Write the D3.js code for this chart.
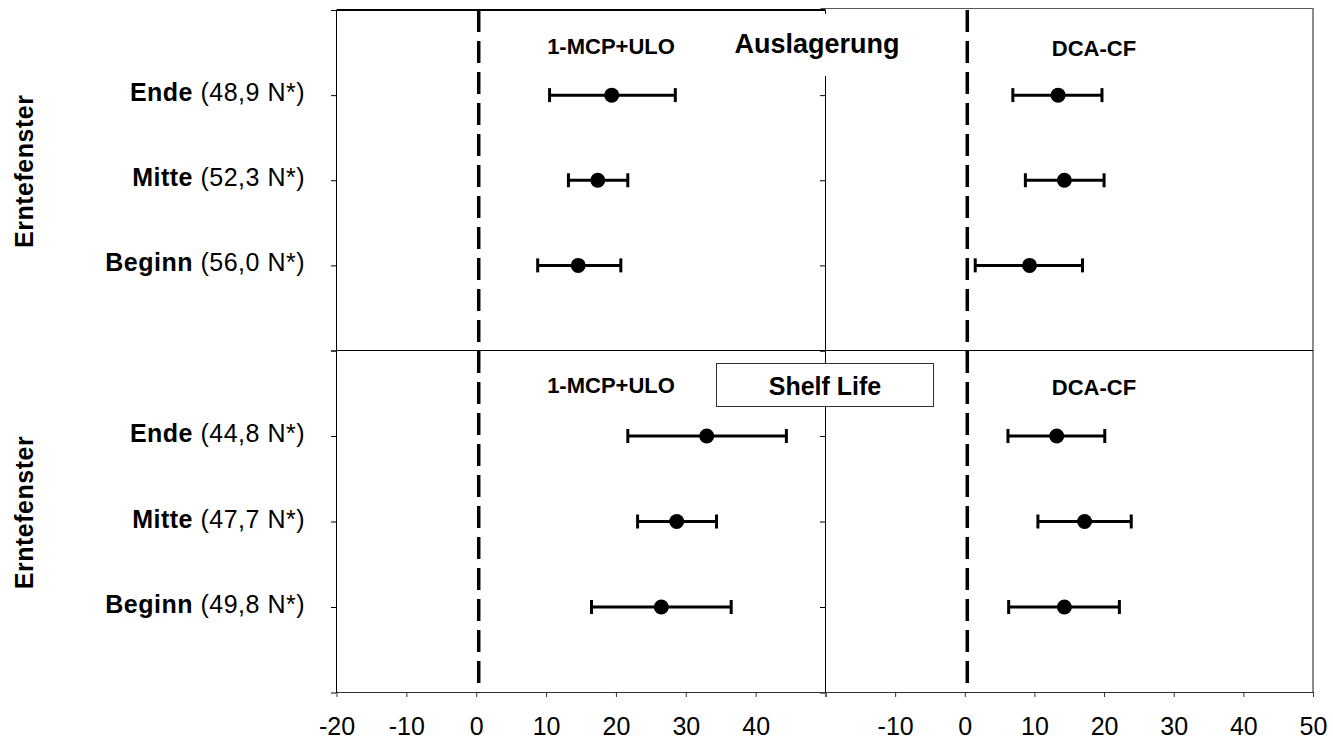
<!DOCTYPE html>
<html>
<head>
<meta charset="utf-8">
<script src="https://cdn.jsdelivr.net/npm/d3@7"></script>
<style>
  body { margin: 0; background: #fff; }
  text { font-family: Arial, "Liberation Sans", sans-serif; }
</style>
</head>
<body>
<div id="figure_div"></div>
<script>
// categories and labels
var categories = ['Ende', 'Mitte', 'Beginn'];
var firmness_auslagerung = ['48,9', '52,3', '56,0'];
var firmness_shelf = ['44,8', '47,7', '49,8'];
var x_ticks = [-20, -10, 0, 10, 20, 30, 40, 50];

// 1-MCP+ULO, Auslagerung
var mcp_aus_mean = [19.4, 17.4, 14.6];
var mcp_aus_low  = [10.5, 13.2, 8.8];
var mcp_aus_high = [28.5, 21.7, 20.7];

// DCA-CF, Auslagerung
var dca_aus_mean = [13.4, 14.3, 9.3];
var dca_aus_low  = [6.9, 8.7, 1.5];
var dca_aus_high = [19.7, 20.0, 16.9];

// 1-MCP+ULO, Shelf Life
var mcp_shelf_mean = [33.0, 28.7, 26.5];
var mcp_shelf_low  = [21.7, 23.1, 16.5];
var mcp_shelf_high = [44.4, 34.4, 36.5];

// DCA-CF, Shelf Life
var dca_shelf_mean = [13.2, 17.2, 14.3];
var dca_shelf_low  = [6.2, 10.5, 6.3];
var dca_shelf_high = [20.1, 23.9, 22.2];

function figure() {
    var width = 1333;
    var height = 741;

    var left = 336.5, mid = 825.5, right = 1313;
    var top = 10, split = 350.5, bottom = 692.5;

    var svg = d3.select('#figure_div')
        .append('svg')
        .attr('width', width)
        .attr('height', height);

    var x_left = d3.scaleLinear().domain([-20, 50]).range([left, mid]);
    var x_right = d3.scaleLinear().domain([-20, 50]).range([mid, right]);

    var rows = [
        { y0: top, y1: split, firmness: firmness_auslagerung },
        { y0: split, y1: bottom, firmness: firmness_shelf }
    ];
    rows.forEach(function(r) {
        r.y = d3.scalePoint().domain(categories).range([r.y0, r.y1]).padding(1);
    });

    // frame lines
    svg.append('line').attr('x1', left).attr('x2', mid).attr('y1', top).attr('y2', top)
        .attr('stroke', '#000').attr('stroke-width', 2);
    svg.append('line').attr('x1', mid - 5).attr('x2', right).attr('y1', top - 1.5).attr('y2', top - 1.5)
        .attr('stroke', '#555').attr('stroke-width', 1);
    svg.append('line').attr('x1', right).attr('x2', right).attr('y1', top - 2).attr('y2', bottom)
        .attr('stroke', '#666').attr('stroke-width', 1.5);
    svg.append('line').attr('x1', left).attr('x2', right).attr('y1', split).attr('y2', split)
        .attr('stroke', '#000').attr('stroke-width', 1);

    // y axes
    rows.forEach(function(r) {
        [left, mid].forEach(function(px) {
            svg.append('g')
                .attr('transform', `translate(${px - 0.5}, 0)`)
                .attr('color', '#000')
                .call(d3.axisLeft(r.y).tickSize(5).tickFormat(''));
        });
    });

    // x axes
    [x_left, x_right].forEach(function(x, i) {
        var g = svg.append('g')
            .attr('transform', `translate(0, ${bottom - 0.5})`)
            .attr('color', '#333')
            .call(d3.axisBottom(x).tickValues(x_ticks).tickSize(5).tickSizeOuter(0).tickPadding(20)
                .tickFormat(function(d) {
                    if (i === 0 && d === 50) return '';
                    if (i === 1 && d === -20) return '';
                    return String(d);
                }));
        g.selectAll('text')
            .attr('fill', '#000')
            .style('font-size', '25px')
            .style('font-family', 'Arial, "Liberation Sans", sans-serif');
    });

    // zero lines
    [x_left, x_right].forEach(function(x) {
        svg.append('line')
            .attr('x1', x(0) + 2.5).attr('x2', x(0) + 2.5)
            .attr('y1', top).attr('y2', bottom)
            .attr('stroke', '#000')
            .attr('stroke-width', 3.5)
            .attr('stroke-dasharray', '22,9');
    });

    // title boxes
    svg.append('rect')
        .attr('x', 730).attr('y', 14).attr('width', 175).attr('height', 62)
        .attr('fill', '#fff');
    svg.append('text')
        .attr('x', 817).attr('y', 53)
        .attr('text-anchor', 'middle')
        .style('font-weight', 700).style('font-size', '27px')
        .text('Auslagerung');

    svg.append('rect')
        .attr('x', 716.5).attr('y', 363.5).attr('width', 217).attr('height', 43)
        .attr('fill', '#fff').attr('stroke', '#333').attr('stroke-width', 1);
    svg.append('text')
        .attr('x', 825).attr('y', 395)
        .attr('text-anchor', 'middle')
        .style('font-weight', 700).style('font-size', '25px')
        .text('Shelf Life');

    // treatment labels
    var treat_labels = [
        { x: 611, y: 54, t: '1-MCP+ULO' },
        { x: 1094, y: 56, t: 'DCA-CF' },
        { x: 611, y: 393, t: '1-MCP+ULO' },
        { x: 1094, y: 395, t: 'DCA-CF' }
    ];
    svg.selectAll('.treat')
        .data(treat_labels)
        .enter()
        .append('text')
        .attr('class', 'treat')
        .attr('x', function(d) { return d.x; })
        .attr('y', function(d) { return d.y; })
        .attr('text-anchor', 'middle')
        .style('font-weight', 700).style('font-size', '22px')
        .text(function(d) { return d.t; });

    // category labels
    rows.forEach(function(r) {
        categories.forEach(function(c, i) {
            var t = svg.append('text')
                .attr('x', 305)
                .attr('y', r.y(c) + 6)
                .attr('text-anchor', 'end')
                .style('font-size', '25px')
                .style('letter-spacing', '0.5px');
            t.append('tspan').style('font-weight', 700).text(c);
            t.append('tspan').text(' (' + r.firmness[i] + ' N*)');
        });
        svg.append('text')
            .attr('transform', `translate(33, ${r.y('Mitte') - 9}) rotate(-90)`)
            .attr('text-anchor', 'middle')
            .style('font-weight', 700).style('font-size', '25px')
            .style('letter-spacing', '0.5px')
            .text('Erntefenster');
    });

    // error bars
    var series = [
        { x: x_left,  row: rows[0], mean: mcp_aus_mean,   low: mcp_aus_low,   high: mcp_aus_high },
        { x: x_right, row: rows[0], mean: dca_aus_mean,   low: dca_aus_low,   high: dca_aus_high },
        { x: x_left,  row: rows[1], mean: mcp_shelf_mean, low: mcp_shelf_low, high: mcp_shelf_high },
        { x: x_right, row: rows[1], mean: dca_shelf_mean, low: dca_shelf_low, high: dca_shelf_high }
    ];

    series.forEach(function(s) {
        var pts = categories.map(function(c, i) {
            return { y: s.row.y(c), mean: s.mean[i], low: s.low[i], high: s.high[i] };
        });
        var g = svg.append('g');
        g.selectAll('.bar').data(pts).enter().append('line')
            .attr('x1', function(d) { return s.x(d.low); })
            .attr('x2', function(d) { return s.x(d.high); })
            .attr('y1', function(d) { return d.y; })
            .attr('y2', function(d) { return d.y; })
            .attr('stroke', '#000').attr('stroke-width', 3);
        g.selectAll('.capl').data(pts).enter().append('line')
            .attr('x1', function(d) { return s.x(d.low); })
            .attr('x2', function(d) { return s.x(d.low); })
            .attr('y1', function(d) { return d.y - 7; })
            .attr('y2', function(d) { return d.y + 7; })
            .attr('stroke', '#000').attr('stroke-width', 3);
        g.selectAll('.caph').data(pts).enter().append('line')
            .attr('x1', function(d) { return s.x(d.high); })
            .attr('x2', function(d) { return s.x(d.high); })
            .attr('y1', function(d) { return d.y - 7; })
            .attr('y2', function(d) { return d.y + 7; })
            .attr('stroke', '#000').attr('stroke-width', 3);
        g.selectAll('circle').data(pts).enter().append('circle')
            .attr('cx', function(d) { return s.x(d.mean); })
            .attr('cy', function(d) { return d.y; })
            .attr('r', 7.5)
            .attr('fill', '#000');
    });
}

figure();
</script>
</body>
</html>
